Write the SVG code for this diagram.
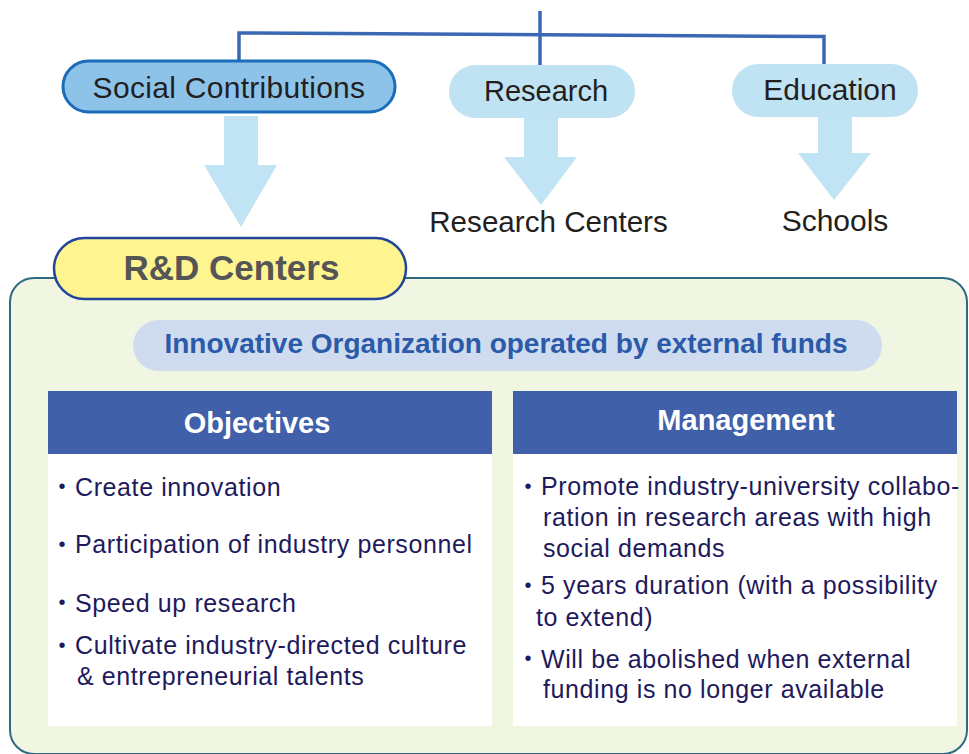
<svg xmlns="http://www.w3.org/2000/svg" width="969" height="754" viewBox="0 0 969 754">
<defs>
<style>
.lbl{font-family:"Liberation Sans",Arial,sans-serif;fill:#231f20;text-anchor:middle}
.arrow{fill:#c0e4f3}
.pill{fill:#bfe3f2}
.conn{stroke:#3b68b2;stroke-width:3.5;fill:none}
.hdr{fill:#4060aa}
.hdrt{font-family:"Liberation Sans",Arial,sans-serif;font-weight:bold;font-size:29px;fill:#fff;text-anchor:middle}
.body{fill:#fff}
.bt{font-family:"Liberation Sans",Arial,sans-serif;font-size:25px;letter-spacing:0.6px;fill:#1e1a5c}
.dot{font-family:"Liberation Sans",Arial,sans-serif;font-size:20px;fill:#1e1a5c}
</style>
</defs>
<rect width="969" height="754" fill="#fff"/>

<g id="connectors">
<path class="conn" d="M540 11 V65"/>
<path class="conn" d="M239 60 V33 L824 36.5 V65"/>
<polygon class="arrow" points="224,116 258,116 258,165 277,165 241,227 204,165 224,165"/>
<polygon class="arrow" points="524,118 558,118 558,157 577,157 541,205 504,157 524,157"/>
<polygon class="arrow" points="818,116 852,116 852,153 871,153 834,200 798,153 818,153"/>
</g>

<g id="social-contributions">
<rect x="63" y="61" width="332" height="51" rx="25.5" fill="#8ec3e9" stroke="#1a6db8" stroke-width="3"/>
<text class="lbl" x="229" y="98" font-size="30" letter-spacing="0.3">Social Contributions</text>
</g>

<g id="research">
<rect class="pill" x="449" y="65" width="186" height="53" rx="26.5"/>
<text class="lbl" x="546" y="101" font-size="29">Research</text>
</g>

<g id="education">
<rect class="pill" x="732" y="64" width="186" height="53" rx="26.5"/>
<text class="lbl" x="830" y="100" font-size="30">Education</text>
</g>

<g id="research-centers">
<text class="lbl" x="548.5" y="232" font-size="29.6">Research Centers</text>
</g>

<g id="schools">
<text class="lbl" x="835" y="231" font-size="30">Schools</text>
</g>

<g id="rd-container">
<rect x="10" y="278" width="957" height="476" rx="24" fill="#f0f6e2" stroke="#2e6a80" stroke-width="2"/>
</g>

<g id="rd-centers">
<rect x="54" y="238" width="352" height="61" rx="30.5" fill="#fef591" stroke="#22449a" stroke-width="2.5"/>
<text class="lbl" x="231.5" y="280" font-size="35" font-weight="bold" style="fill:#555555">R&amp;D Centers</text>
</g>

<g id="innovative">
<rect x="133" y="320" width="749" height="51" rx="25.5" fill="#cfdcef"/>
<text x="506" y="353" font-family="&quot;Liberation Sans&quot;, Arial, sans-serif" font-size="28" font-weight="bold" fill="#2a5aa8" text-anchor="middle">Innovative Organization operated by external funds</text>
</g>

<g id="objectives">
<rect class="hdr" x="48" y="391" width="444" height="63"/>
<rect class="body" x="48" y="454" width="444" height="272"/>
<text class="hdrt" x="257" y="433">Objectives</text>
<text class="dot" x="58.5" y="493">•</text>
<text class="bt" x="75" y="496">Create innovation</text>
<text class="dot" x="58.5" y="551">•</text>
<text class="bt" x="75" y="553">Participation of industry personnel</text>
<text class="dot" x="58.5" y="609">•</text>
<text class="bt" x="75" y="612">Speed up research</text>
<text class="dot" x="58.5" y="652">•</text>
<text class="bt" x="75" y="654">Cultivate industry-directed culture</text>
<text class="bt" x="77" y="685">&amp; entrepreneurial talents</text>
</g>

<g id="management">
<rect class="hdr" x="513" y="391" width="444" height="63"/>
<rect class="body" x="513" y="454" width="444" height="272"/>
<text class="hdrt" x="746" y="430">Management</text>
<text class="dot" x="524.5" y="493">•</text>
<text class="bt" x="541" y="495">Promote industry-university collabo-</text>
<text class="bt" x="543" y="526">ration in research areas with high</text>
<text class="bt" x="543" y="557">social demands</text>
<text class="dot" x="524.5" y="592">•</text>
<text class="bt" x="541" y="594">5 years duration (with a possibility</text>
<text class="bt" x="536" y="626">to extend)</text>
<text class="dot" x="524.5" y="665">•</text>
<text class="bt" x="541" y="668">Will be abolished when external</text>
<text class="bt" x="543" y="698">funding is no longer available</text>
</g>
</svg>
